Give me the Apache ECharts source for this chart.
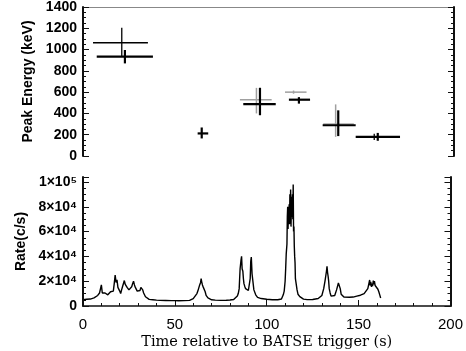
<!DOCTYPE html>
<html><head><meta charset="utf-8">
<script src="https://cdn.jsdelivr.net/npm/echarts@6/dist/echarts.min.js"></script>
<style>html,body{margin:0;padding:0;background:#fff}#c{width:466px;height:351px}</style>
</head><body><div id="c"></div>
<script>
// Peak energy error crosses: [t, tLo, tHi, Epeak, eLo, eHi]
var epThick = [
  [22.6, 7.4, 37.7, 933, 870, 996],
  [64.0, 61.8, 67.5, 212, 165, 268],
  [95.4, 86.4, 103.9, 488, 383, 641],
  [116.4, 111.0, 122.4, 529, 492, 553],
  [137.6, 129.2, 147.0, 289, 187, 429],
  [158.9, 147.0, 170.9, 180, 143, 217]
];
var epThin = [
  [20.9, 5.4, 35.0, 1064, 940, 1204],
  [157.0, 156.5, 157.5, 180, 150, 210]
];
var epGrey = [
  [93.5, 84.6, 101.7, 529, 400, 640],
  [113.5, 108.9, 120.5, 600, 585, 615],
  [136.2, 129.5, 146.0, 300, 180, 485]
];
// Light curve
var lcTime = [0,1,2,3,4,5,6,7,8,8.5,9,9.5,10,10.5,11,11.5,12,12.5,13,13.5,14,14.5,15,15.5,16,16.5,17,17.5,18,18.5,19,19.5,20,20.5,21,21.5,22,22.5,23,23.5,24,24.5,25,25.5,26,26.5,27,27.5,28,28.5,29,29.5,30,30.5,31,31.5,32,32.5,33,33.5,34,35,36,38,40,42,45,48,50,52,55,58,59,60,61,62,62.5,63,63.5,64,64.3,64.6,65,65.5,66,66.5,67,68,69,70,72,75,78,80,82,83,84,84.5,85,85.5,86,86.3,86.6,87,87.3,87.6,88,88.5,89,89.5,90,90.5,91,91.3,91.6,92,93,94,95,97,100,103,106,108,108.5,109,109.5,110,110.3,110.6,111,111.2,111.4,111.6,111.8,112,112.2,112.4,112.6,112.8,113,113.2,113.4,113.6,113.8,114,114.2,114.4,114.6,114.8,115,115.2,115.4,115.6,116,116.5,117,118,119,120,122,125,128,130,131,131.7,132.2,132.5,132.8,133.1,133.4,133.7,134,134.5,135,136,137,138,139,139.6,140,140.5,141,142,143,145,147,149,151,152,153,154,155,155.5,156,156.3,156.6,157,157.3,157.6,158,158.3,158.6,159,159.3,159.6,160,160.5,161,161.5,162,162.5,163];
var lcRate = [5000,5200,5400,5300,5600,6000,6500,7200,8500,7800,10500,9000,17000,10500,11000,9000,10500,9500,10800,9000,9500,8800,11500,10500,13000,12000,18000,25000,19000,21000,15000,16500,12000,10000,13000,15500,17000,20500,17500,16000,15000,13500,13000,14000,12000,15500,18000,20000,17000,15000,13500,12000,11500,13000,12500,15000,16500,13000,10500,9000,7500,6000,5300,5000,4700,4500,4400,4300,4300,4200,4300,4500,5000,6000,7500,10000,12000,13500,17000,19000,22000,19500,17000,15000,14500,11500,8500,6500,5500,5000,4700,4500,4600,4800,5200,6000,8000,10000,14000,30000,37000,40000,30000,28000,22000,18000,16000,14000,15000,13000,12500,14000,22000,36000,39500,26000,13000,9000,7000,6000,5400,5000,5000,5600,7000,9000,12000,20000,30000,42000,50000,72000,80000,62000,75000,68000,82000,66000,90000,70000,94000,64000,78000,88000,72000,90000,70000,98000,60000,64000,48000,40000,35000,22000,18000,13000,9500,7500,6300,5500,5100,5200,6000,8500,14000,20000,25000,28000,32000,27000,24000,20000,14000,10500,8000,7200,8500,13000,18500,19500,14000,9500,8000,7200,7000,7000,7200,8000,8700,9200,10000,11500,14000,17500,21000,16500,19500,15500,18000,16000,20500,17500,20000,16500,18000,16000,16500,13500,11500,9000,6500];
var xTicks = [0, 50, 100, 150, 200];
var epTicks = [0, 200, 400, 600, 800, 1000, 1200, 1400];
var rateTicks = [0, 20000, 40000, 60000, 80000, 100000];
var rateLabels = ['0', '2×10⁴', '4×10⁴', '6×10⁴', '8×10⁴', '1×10⁵'];
var frameX = [0, 200];

var lcData = lcTime.map(function (t, i) { return [t, lcRate[i]]; });
var epCenters = epThick.map(function (r) { return [r[0], r[3]]; });

function crossRender(params, api) {
  var t = api.value(0), tl = api.value(1), th = api.value(2);
  var e = api.value(3), el = api.value(4), eh = api.value(5);
  var a = api.coord([tl, e]), b = api.coord([th, e]);
  var c = api.coord([t, el]), d = api.coord([t, eh]);
  var st = api.style();
  return { type: 'group', children: [
    { type: 'line', shape: { x1: a[0], y1: a[1], x2: b[0], y2: b[1] }, style: { stroke: st.stroke, lineWidth: st.lineWidth } },
    { type: 'line', shape: { x1: c[0], y1: c[1], x2: d[0], y2: d[1] }, style: { stroke: st.stroke, lineWidth: st.lineWidth } }
  ] };
}
function frameMarks() {
  return { silent: true, symbol: ['none', 'none'], animation: false, label: { show: false },
    lineStyle: { color: '#111', width: 2, type: 'solid' },
    emphasis: { disabled: true },
    data: frameX.map(function (x) { return { xAxis: x }; }) };
}

var labFont = 'Liberation Sans';
function yAx(grid, max, interval, pos, labelFn, name, nameGap) {
  var o = { gridIndex: grid, type: 'value', min: 0, max: max, interval: interval, position: pos,
    axisLine: { show: true, onZero: false, lineStyle: { color: '#111', width: 2 } },
    axisTick: { show: true, inside: true, length: 6, lineStyle: { color: '#111', width: 1 } },
    minorTick: { show: true, splitNumber: 4, length: 3, lineStyle: { color: '#111' } },
    axisLabel: { show: !!labelFn, color: '#000', fontFamily: labFont, fontWeight: 'bold', fontSize: 14, margin: 6,
      formatter: labelFn || function () { return ''; } },
    splitLine: { show: false } };
  if (name) {
    o.name = name; o.nameLocation = 'middle'; o.nameGap = nameGap;
    o.nameTextStyle = { color: '#000', fontFamily: labFont, fontWeight: 'bold', fontSize: 14 };
  }
  return o;
}

var chart = echarts.init(document.getElementById('c'));
chart.setOption({
  animation: false,
  grid: [
    { left: 83, right: 12, top: 7, height: 149 },
    { left: 83, right: 12, top: 177, height: 130 }
  ],
  xAxis: [
    { gridIndex: 0, type: 'value', min: 0, max: 200, interval: 50, position: 'top',
      axisLine: { show: true, onZero: false, lineStyle: { color: '#888', width: 1 } },
      axisTick: { show: false }, axisLabel: { show: false }, splitLine: { show: false } },
    { gridIndex: 1, type: 'value', min: 0, max: 200, interval: 50, position: 'bottom',
      axisLine: { show: true, onZero: false, lineStyle: { color: '#111', width: 1.5 } },
      axisTick: { show: true, inside: true, length: 6, lineStyle: { color: '#111', width: 1 } },
      minorTick: { show: true, splitNumber: 5, length: 3, lineStyle: { color: '#111' } },
      axisLabel: { color: '#000', fontFamily: labFont, fontSize: 15, margin: 11,
        formatter: function (v) { return xTicks.indexOf(v) >= 0 ? String(v) : ''; } },
      splitLine: { show: false },
      name: 'Time relative to BATSE trigger (s)', nameLocation: 'middle', nameGap: 29,
      nameTextStyle: { color: '#000', fontFamily: 'DejaVu Serif', fontSize: 14.5 } }
  ],
  yAxis: [
    yAx(0, 1400, 200, 'left', function (v) { return epTicks.indexOf(v) >= 0 ? String(v) : ''; }, 'Peak Energy (keV)', 48),
    yAx(0, 1400, 200, 'right', null),
    yAx(1, 104000, 20000, 'left', function (v) { var i = rateTicks.indexOf(v); return i >= 0 ? rateLabels[i] : ''; }, 'Rate(c/s)', 54),
    yAx(1, 104000, 20000, 'right', null)
  ],
  series: [
    { type: 'custom', xAxisIndex: 0, yAxisIndex: 0, renderItem: crossRender, data: epGrey,
      itemStyle: { color: '#a0a0a0', borderColor: '#a0a0a0', borderWidth: 1.5 }, encode: { x: [0, 1, 2], y: [3, 4, 5] } },
    { type: 'custom', xAxisIndex: 0, yAxisIndex: 0, renderItem: crossRender, data: epThin,
      itemStyle: { color: '#000', borderColor: '#000', borderWidth: 1.3 }, encode: { x: [0, 1, 2], y: [3, 4, 5] } },
    { type: 'custom', xAxisIndex: 0, yAxisIndex: 0, renderItem: crossRender, data: epThick,
      itemStyle: { color: '#000', borderColor: '#000', borderWidth: 2.2 }, encode: { x: [0, 1, 2], y: [3, 4, 5] } },
    { type: 'line', xAxisIndex: 0, yAxisIndex: 0, data: epCenters, showSymbol: false, silent: true, clip: false,
      lineStyle: { opacity: 0 }, markLine: frameMarks() },
    { type: 'line', xAxisIndex: 1, yAxisIndex: 2, data: lcData, showSymbol: false, clip: false,
      lineStyle: { color: '#000', width: 1.4 }, markLine: frameMarks() }
  ]
});
</script></body></html>
